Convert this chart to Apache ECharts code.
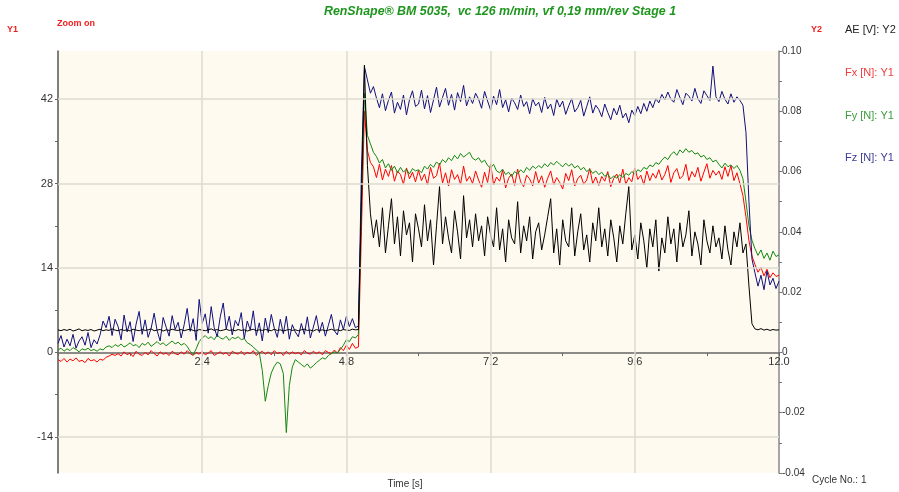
<!DOCTYPE html>
<html>
<head>
<meta charset="utf-8">
<script src="https://cdn.jsdelivr.net/npm/echarts@6/dist/echarts.min.js"></script>
<style>html,body{margin:0;padding:0;background:#fff}#c{width:899px;height:492px}</style>
</head>
<body>
<div id="c"></div>
<script>
// sample spacing of the recorded signals (s)
const STEP = 0.05;
// AE [V] on Y2, one row per second
const ae = [
0.0075,0.0072,0.0076,0.0073,0.0077,0.0071,0.0074,0.0078,0.0072,0.0075,0.0073,0.0076,0.0071,0.0074,0.0077,0.0072,0.0075,0.0073,0.0078,0.0074,
0.0072,0.0076,0.0073,0.0075,0.0071,0.0077,0.0074,0.0072,0.0076,0.0073,0.0075,0.0078,0.0072,0.0074,0.0076,0.0071,0.0075,0.0073,0.0077,0.0074,
0.0073,0.0076,0.0072,0.0075,0.0077,0.0073,0.0071,0.0076,0.0074,0.0072,0.0075,0.0078,0.0073,0.0076,0.0072,0.0074,0.0077,0.0073,0.0075,0.0072,
0.0076,0.0073,0.0075,0.0071,0.0074,0.0077,0.0072,0.0075,0.0073,0.0076,0.0074,0.0072,0.0077,0.0073,0.0075,0.0071,0.0074,0.0076,0.0073,0.0075,
0.0072,0.0075,0.0077,0.0073,0.0074,0.0071,0.0076,0.0073,0.0075,0.0072,0.0074,0.0077,0.0073,0.0075,0.0072,0.0076,0.0074,0.0073,0.0077,0.0075,
0.0076,0.0500,0.0953,0.0620,0.0460,0.0380,0.0440,0.0350,0.0480,0.0330,0.0420,0.0510,0.0360,0.0450,0.0320,0.0470,0.0390,0.0430,0.0300,0.0460,
0.0410,0.0350,0.0490,0.0370,0.0440,0.0290,0.0420,0.0550,0.0360,0.0450,0.0380,0.0330,0.0470,0.0400,0.0310,0.0520,0.0380,0.0440,0.0350,0.0460,
0.0370,0.0420,0.0320,0.0450,0.0390,0.0350,0.0480,0.0340,0.0410,0.0300,0.0440,0.0380,0.0360,0.0500,0.0330,0.0420,0.0370,0.0450,0.0310,0.0400,
0.0430,0.0340,0.0390,0.0450,0.0510,0.0330,0.0410,0.0290,0.0440,0.0370,0.0350,0.0480,0.0320,0.0400,0.0460,0.0340,0.0390,0.0300,0.0430,0.0370,
0.0480,0.0350,0.0410,0.0320,0.0440,0.0380,0.0300,0.0420,0.0360,0.0460,0.0550,0.0340,0.0390,0.0310,0.0430,0.0370,0.0280,0.0410,0.0350,0.0440,
0.0270,0.0380,0.0330,0.0450,0.0360,0.0410,0.0300,0.0430,0.0350,0.0390,0.0470,0.0320,0.0400,0.0360,0.0290,0.0440,0.0370,0.0330,0.0420,0.0350,
0.0380,0.0310,0.0420,0.0340,0.0290,0.0400,0.0350,0.0430,0.0330,0.0360,0.0220,0.0095,0.0078,0.0075,0.0079,0.0074,0.0077,0.0073,0.0076,0.0074,
0.0075];
// Fx [N] on Y1
const fx = [
-1.2,-1.5,-1.0,-1.6,-1.1,-1.4,-0.9,-1.5,-1.3,-1.7,-1.0,-1.4,-1.2,-1.6,-1.1,-1.3,-0.8,-0.6,-0.3,-0.5,
-0.2,-0.6,0.1,-0.4,-0.1,-0.7,0.2,-0.3,-0.5,0.0,-0.4,0.3,-0.2,-0.6,0.1,-0.3,-0.1,-0.5,0.2,-0.2,
-0.4,0.1,-0.3,0.3,-0.2,-0.5,0.0,-0.3,0.2,-0.4,-0.1,0.3,-0.5,-0.2,0.1,-0.3,0.0,-0.6,0.2,-0.1,
-0.3,0.2,-0.4,0.0,-0.2,0.3,-0.5,-0.1,0.2,-0.3,0.1,-0.4,0.3,-0.2,0.0,-0.5,0.2,-0.3,0.1,-0.2,
0.0,-0.4,0.3,-0.1,-0.3,0.2,-0.2,0.1,-0.4,0.3,0.0,-0.2,0.4,-0.1,0.8,0.3,1.2,0.5,1.5,0.7,
0.9,20.0,40.0,33.5,31.5,30.8,29.0,31.2,28.6,30.4,29.2,31.0,28.4,30.1,29.5,27.9,30.6,28.8,29.9,28.3,
30.2,28.5,29.6,27.8,30.7,28.9,29.3,31.4,28.1,29.8,27.6,30.3,28.7,29.5,27.9,30.9,28.4,29.2,28.0,30.1,
28.6,27.4,29.9,28.2,31.3,27.8,29.1,28.4,30.2,27.3,28.9,29.6,27.7,30.4,28.3,27.5,29.4,28.8,27.6,30.0,
28.1,29.3,27.4,28.9,30.1,27.8,29.0,28.2,27.1,29.7,28.5,30.3,27.6,28.8,29.4,27.9,28.6,30.5,28.0,29.1,
27.7,29.2,28.4,30.0,27.5,28.9,29.6,28.1,30.4,27.9,29.0,28.3,30.6,28.7,29.4,27.8,30.1,28.5,29.7,28.9,
30.3,28.6,29.5,31.0,28.2,29.8,30.5,28.8,29.3,31.2,28.5,30.0,29.1,30.7,28.4,29.9,31.3,28.9,30.2,29.4,
30.1,28.7,30.8,29.2,31.0,28.5,29.8,28.0,26.0,22.5,18.5,16.0,14.6,13.3,14.1,12.7,13.8,12.4,13.2,12.6,
12.8];
// Fy [N] on Y1
const fy = [
0.4,0.7,0.2,0.6,0.3,0.8,0.5,0.1,0.6,0.4,0.7,0.3,0.5,0.2,0.6,0.4,0.9,1.1,0.8,1.3,
1.0,1.4,0.9,1.2,1.6,1.1,1.3,0.8,1.5,1.2,1.7,1.0,1.4,1.8,1.3,1.6,1.1,1.5,1.9,1.4,
1.7,1.2,1.5,1.0,0.2,-0.4,0.6,1.8,2.4,2.8,2.3,2.6,2.1,2.9,2.4,2.2,2.7,2.0,2.5,2.3,
2.6,2.1,2.3,1.6,1.3,0.9,0.4,0.0,-3.0,-8.1,-5.5,-3.4,-2.3,-1.6,-1.9,-3.5,-13.3,-5.5,-2.4,-1.2,
-1.6,-2.0,-2.4,-1.9,-2.6,-2.2,-1.7,-1.3,-0.9,-1.1,-0.5,-0.2,0.1,-0.1,0.5,1.2,2.1,1.8,2.6,2.4,
3.0,25.0,43.0,36.0,34.6,33.2,32.5,31.4,32.0,30.6,31.3,30.2,30.9,29.8,30.7,29.9,30.4,29.6,30.5,30.1,
30.3,29.8,30.9,30.4,31.2,30.7,31.6,31.1,32.0,31.5,32.3,31.8,32.7,32.1,33.0,32.4,32.8,33.2,32.2,31.9,
32.3,31.5,31.9,31.0,30.6,31.2,30.1,29.8,30.4,29.5,29.9,29.2,30.0,29.6,30.3,29.8,30.7,30.2,30.9,30.5,
31.0,30.6,31.3,30.8,31.5,31.1,31.7,31.2,30.8,31.4,30.9,31.3,30.6,31.0,30.3,30.7,30.0,30.4,29.7,30.1,
29.5,29.9,29.2,29.6,28.8,29.3,28.9,29.5,29.0,29.7,29.4,30.0,29.6,30.3,30.0,30.7,30.4,31.1,30.8,31.5,
31.2,31.9,32.4,32.0,32.8,33.3,32.7,33.6,33.1,33.8,33.2,33.5,32.9,33.1,32.4,32.7,32.0,32.3,31.6,31.9,
31.2,30.6,31.4,30.8,31.1,30.5,31.0,30.2,28.8,25.0,21.0,18.6,17.2,16.1,17.0,15.6,16.5,15.3,16.8,15.9,
16.2];
// Fz [N] on Y1
const fz = [
1.5,2.8,0.9,2.2,1.1,3.0,0.7,1.9,2.6,1.2,3.3,0.8,2.1,1.4,2.9,5.2,4.1,6.0,2.8,5.5,
4.3,2.1,6.2,3.4,5.1,1.8,4.7,6.8,3.0,5.4,2.5,4.0,6.5,3.6,1.9,5.8,4.2,2.7,6.1,3.8,
5.0,2.4,4.6,7.3,3.5,5.6,2.0,8.8,4.8,6.4,3.2,7.6,4.1,2.6,5.9,8.2,3.9,6.0,2.9,5.3,
4.4,6.6,2.3,5.2,3.7,6.9,2.8,4.9,1.9,5.7,3.3,6.3,4.0,2.5,5.5,3.1,6.0,2.2,4.6,3.4,
2.6,4.8,3.0,5.9,2.4,4.2,6.1,3.3,5.0,2.7,4.5,6.3,3.6,2.9,5.4,3.8,6.0,4.3,5.6,4.1,
4.4,30.0,47.4,45.2,43.0,44.1,42.2,40.6,42.9,40.1,41.8,43.2,39.7,41.5,40.3,42.7,39.4,41.9,43.4,40.8,
41.2,43.5,40.4,42.6,39.8,41.9,44.0,40.7,42.3,43.8,41.0,42.8,40.2,43.1,41.6,44.3,40.9,42.4,41.3,43.0,
42.0,40.5,43.3,41.7,40.2,42.5,41.1,43.6,40.6,41.9,39.9,42.2,41.4,40.3,42.7,40.8,41.6,39.6,42.1,40.9,
41.5,39.8,42.3,40.4,41.2,39.3,42.0,40.7,41.7,39.5,40.9,42.1,39.9,40.6,41.8,39.2,40.8,42.4,39.7,41.0,
40.3,39.1,41.2,39.8,38.6,40.5,39.4,41.0,38.9,39.7,38.1,40.2,39.3,40.8,39.6,41.3,40.0,41.7,40.6,42.1,
41.4,42.8,41.9,43.2,42.0,41.5,43.6,42.3,41.1,43.0,42.5,41.7,43.8,42.1,41.3,43.4,42.6,41.8,47.5,42.4,
41.6,43.3,42.0,41.2,42.9,41.5,42.4,41.8,41.0,36.5,25.0,15.5,13.2,11.0,12.8,10.4,13.5,11.2,12.3,10.6,
11.8];
// tick labels
const y1Labels = [-14, 0, 14, 28, 42];
const y1Ticks = [-14, -7, 0, 7, 14, 21, 28, 35, 42];
const y1Grid = [-14, 14, 28, 42];
const xGrid = [2.4, 4.8, 7.2, 9.6];

const FONT = "'Liberation Sans', Arial, sans-serif";
const pair = arr => arr.map((v, i) => [+(i * STEP).toFixed(2), v]);

const chart = echarts.init(document.getElementById('c'), null, {renderer: 'canvas'});
const lineBase = {type: 'line', showSymbol: false, symbol: 'none', animation: false, silent: true, z: 3};

// the time axis sits on the Y1 zero line: 120 px above the plot bottom
chart.setOption({
  animation: false,
  backgroundColor: '#ffffff',
  grid: {left: 58, top: 51, width: 721, height: 422, show: true, backgroundColor: '#fffaef', borderWidth: 0},
  xAxis: {
    type: 'value', min: 0, max: 12, interval: 1.2, position: 'bottom', offset: -120,
    axisLine: {show: true, onZero: false, lineStyle: {color: '#666', width: 1.5}},
    axisTick: {show: true, length: 3, lineStyle: {color: '#666'}},
    axisLabel: {
      color: '#333', fontSize: 11, fontFamily: FONT, margin: 3, showMinLabel: true, showMaxLabel: true,
      formatter: v => (v > 0.1 && Math.round(v / 1.2) % 2 === 0) ? v.toFixed(1) : ''
    },
    splitLine: {show: false}
  },
  yAxis: [
    {
      type: 'value', min: -20, max: 50, position: 'left',
      axisLine: {show: true, onZero: false, lineStyle: {color: '#555', width: 1.5}},
      axisTick: {show: true, length: 3, customValues: y1Ticks, lineStyle: {color: '#666'}},
      axisLabel: {color: '#333', fontSize: 11, fontFamily: FONT, margin: 5, customValues: y1Labels},
      splitLine: {show: false}
    },
    {
      type: 'value', min: -0.04, max: 0.10, interval: 0.02, position: 'right',
      axisLine: {show: true, onZero: false, lineStyle: {color: '#888', width: 1.5}},
      axisTick: {show: true, length: 3, lineStyle: {color: '#777'}},
      minorTick: {show: true, splitNumber: 2, length: 3, lineStyle: {color: '#777'}},
      axisLabel: {color: '#333', fontSize: 10, fontFamily: FONT, margin: 3,
        formatter: v => Math.abs(v) < 1e-9 ? '0' : v.toFixed(2)},
      splitLine: {show: false}
    }
  ],
  series: [
    {
      type: 'line', name: 'grid', data: [], yAxisIndex: 0, silent: true, z: 1,
      markLine: {
        silent: true, symbol: 'none', animation: false, label: {show: false},
        lineStyle: {color: '#dcdad2', width: 1.5, type: 'solid'},
        data: y1Grid.map(v => ({yAxis: v})).concat(xGrid.map(v => ({xAxis: v})))
      }
    },
    Object.assign({}, lineBase, {name: 'Fx [N]: Y1', yAxisIndex: 0, data: pair(fx), lineStyle: {color: '#ff0000', width: 1}}),
    Object.assign({}, lineBase, {name: 'Fy [N]: Y1', yAxisIndex: 0, data: pair(fy), lineStyle: {color: '#118811', width: 1}}),
    Object.assign({}, lineBase, {name: 'Fz [N]: Y1', yAxisIndex: 0, data: pair(fz), lineStyle: {color: '#10107e', width: 1}}),
    Object.assign({}, lineBase, {name: 'AE [V]: Y2', yAxisIndex: 1, data: pair(ae), lineStyle: {color: '#000000', width: 1}})
  ],
  graphic: [
    {type: 'text', style: {text: 'RenShape\u00ae BM 5035,  vc 126 m/min, vf 0,19 mm/rev Stage 1', x: 500, y: 12,
      textAlign: 'center', textVerticalAlign: 'middle', font: "italic bold 12.4px 'Liberation Sans', Arial, sans-serif", fill: '#1e961e'}},
    {type: 'text', style: {text: 'Y1', x: 7, y: 30, textVerticalAlign: 'middle', font: "bold 9px 'Liberation Sans', Arial, sans-serif", fill: '#ee2020'}},
    {type: 'text', style: {text: 'Zoom on', x: 57, y: 24, textVerticalAlign: 'middle', font: "bold 9px 'Liberation Sans', Arial, sans-serif", fill: '#ee2020'}},
    {type: 'text', style: {text: 'Y2', x: 811, y: 30, textVerticalAlign: 'middle', font: "bold 9px 'Liberation Sans', Arial, sans-serif", fill: '#ee2020'}},
    {type: 'text', style: {text: 'AE [V]: Y2', x: 845, y: 30, textVerticalAlign: 'middle', font: "11px 'Liberation Sans', Arial, sans-serif", fill: '#222222'}},
    {type: 'text', style: {text: 'Fx [N]: Y1', x: 845, y: 73, textVerticalAlign: 'middle', font: "11px 'Liberation Sans', Arial, sans-serif", fill: '#f03c3c'}},
    {type: 'text', style: {text: 'Fy [N]: Y1', x: 845, y: 116, textVerticalAlign: 'middle', font: "11px 'Liberation Sans', Arial, sans-serif", fill: '#3c9c3c'}},
    {type: 'text', style: {text: 'Fz [N]: Y1', x: 845, y: 158, textVerticalAlign: 'middle', font: "11px 'Liberation Sans', Arial, sans-serif", fill: '#3c3c96'}},
    {type: 'text', style: {text: 'Cycle No.: 1', x: 812, y: 480, textVerticalAlign: 'middle', font: "10px 'Liberation Sans', Arial, sans-serif", fill: '#333333'}},
    {type: 'text', style: {text: 'Time [s]', x: 405, y: 484, textAlign: 'center', textVerticalAlign: 'middle', font: "10px 'Liberation Sans', Arial, sans-serif", fill: '#333333'}}
  ]
});
</script>
</body>
</html>
